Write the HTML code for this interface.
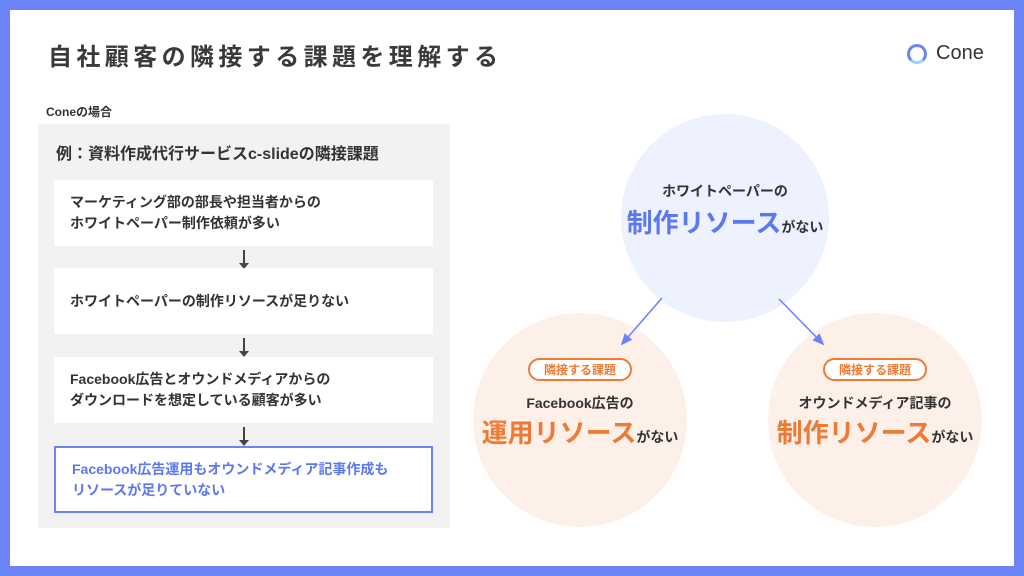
<!DOCTYPE html>
<html><head><meta charset="utf-8"><style>
*{margin:0;padding:0;box-sizing:border-box}
body{width:1024px;height:576px;background:#6a84f6;position:relative;overflow:hidden;font-family:"Liberation Sans","Noto Sans CJK JP",sans-serif;color:#333}
.page{position:absolute;left:10px;top:10px;width:1004px;height:556px;background:#fff}
.abs{position:absolute}
.title{left:48px;top:37px;font-size:24px;font-weight:bold;letter-spacing:4.4px;color:#3a3a3a}
.panel{left:38px;top:124px;width:412px;height:404px;background:#f2f2f2}
.box{position:absolute;left:54px;width:379px;height:66px;background:#fff;font-size:14px;font-weight:bold;line-height:21px;padding:0 16px;display:flex;align-items:center;color:#333}
.arr{position:absolute;left:243px;width:2px;height:14px;background:#444}
.arr:after{content:"";position:absolute;left:-4px;bottom:-5px;border-left:5px solid transparent;border-right:5px solid transparent;border-top:6px solid #444}
.c{position:absolute;border-radius:50%;text-align:center;font-weight:bold}
.tag{display:inline-block;border:2px solid #ef7a35;border-radius:12px;color:#ef7a35;font-size:12px;padding:1px 14px;background:#fff}
</style></head><body>
<div class="page"></div>
<div class="abs title">自社顧客の隣接する課題を理解する</div>
<div class="abs" style="left:907px;top:44px;width:20px;height:20px;border-radius:50%;border:3px solid #6a84f6;border-bottom-color:#9fd0f5"></div>
<div class="abs" style="left:936px;top:42px;font-size:20px;color:#333">Cone</div>
<div class="abs" style="left:46px;top:103px;font-size:12px;font-weight:bold">Coneの場合</div>
<div class="abs panel"></div>
<div class="abs" style="left:56px;top:140px;font-size:16px;font-weight:bold;color:#333">例：資料作成代行サービスc-slideの隣接課題</div>
<div class="box" style="top:180px">マーケティング部の部長や担当者からの<br>ホワイトペーパー制作依頼が多い</div>
<div class="arr" style="top:250px"></div>
<div class="box" style="top:268px">ホワイトペーパーの制作リソースが足りない</div>
<div class="arr" style="top:338px"></div>
<div class="box" style="top:357px">Facebook広告とオウンドメディアからの<br>ダウンロードを想定している顧客が多い</div>
<div class="arr" style="top:427px"></div>
<div class="box" style="top:446px;height:67px;border:2px solid #6a84f6;color:#5b78f0">Facebook広告運用もオウンドメディア記事作成も<br>リソースが足りていない</div>

<div class="c" style="left:621px;top:114px;width:208px;height:208px;background:#eef1fe">
<div style="margin-top:67px;font-size:14px">ホワイトペーパーの</div>
<div style="font-size:26px;color:#5b78f0;margin-top:2px">制作リソース<span style="font-size:14px;color:#333">がない</span></div></div>
<div class="c" style="left:473px;top:313px;width:214px;height:214px;background:#fdf0e9">
<div style="margin-top:45px"><span class="tag">隣接する課題</span></div>
<div style="font-size:14px;margin-top:12px">Facebook広告の</div>
<div style="font-size:26px;color:#ef7a35;margin-top:0">運用リソース<span style="font-size:14px;color:#333">がない</span></div></div>
<div class="c" style="left:768px;top:313px;width:214px;height:214px;background:#fdf0e9">
<div style="margin-top:45px"><span class="tag">隣接する課題</span></div>
<div style="font-size:14px;margin-top:12px">オウンドメディア記事の</div>
<div style="font-size:26px;color:#ef7a35;margin-top:0">制作リソース<span style="font-size:14px;color:#333">がない</span></div></div>
<svg class="abs" style="left:0;top:0" width="1024" height="576">
<defs><marker id="m" markerWidth="12" markerHeight="10" refX="10" refY="5" orient="auto" markerUnits="userSpaceOnUse"><path d="M0,0L12,5L0,10z" fill="#6a84f6"/></marker></defs>
<line x1="662" y1="298" x2="622" y2="344" stroke="#6a84f6" stroke-width="1.5" marker-end="url(#m)"/>
<line x1="779" y1="299" x2="823" y2="344" stroke="#6a84f6" stroke-width="1.5" marker-end="url(#m)"/>
</svg>
</body></html>
